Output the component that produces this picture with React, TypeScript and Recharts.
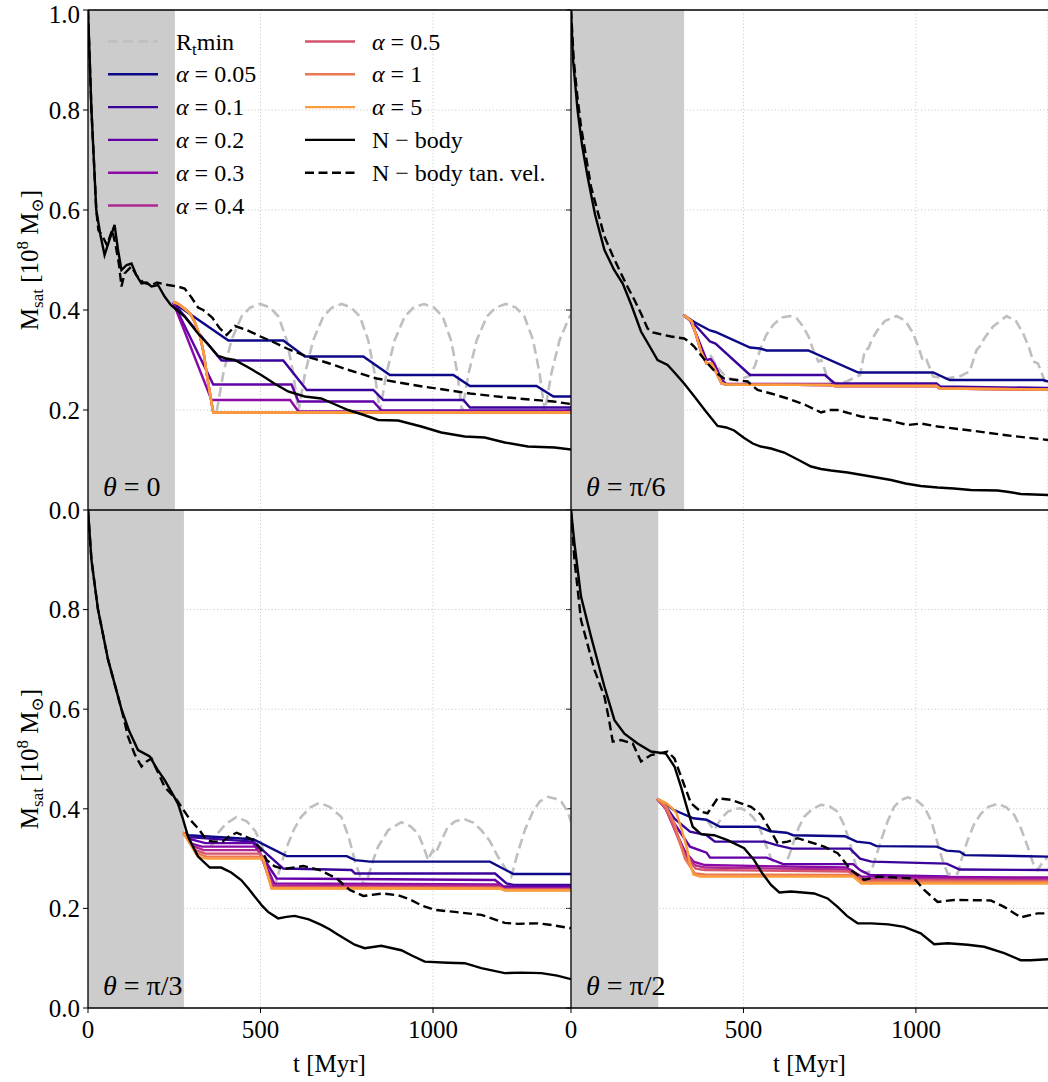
import { CartesianGrid, Line, LineChart, ReferenceArea, XAxis, YAxis } from "recharts";

type Pair = [number, number];

const font = "'Liberation Serif', 'DejaVu Serif', serif";

const ALPHA_LABELS = ["0.05", "0.1", "0.2", "0.3", "0.4", "0.5", "1", "5"];
const ALPHA_COLORS = ["#0d0887", "#3a049a", "#6300a7", "#8b0aa5", "#ae2892", "#d5536f", "#ec7853", "#fa9e3b"];
const X_TICKS = [0, 500, 1000];
const Y_TICKS_TOP = [0, 0.2, 0.4, 0.6, 0.8, 1.0];
const Y_TICKS_BOTTOM = [0, 0.2, 0.4, 0.6, 0.8];
const THETA_LABELS = ["0", "π/6", "π/3", "π/2"];

// ---- theta = 0 (top left)
const tl_rt: Pair[] = [
  [373, 0.197], [392, 0.273], [416, 0.34], [445, 0.387], [470, 0.405], [499, 0.412], [528, 0.405], [552, 0.387], [576, 0.34], [595, 0.273],
  [610, 0.197], [629, 0.273], [653, 0.34], [682, 0.387], [707, 0.405], [735, 0.412], [763, 0.405], [788, 0.387], [812, 0.34], [831, 0.273],
  [846, 0.197], [865, 0.273], [889, 0.34], [918, 0.387], [944, 0.405], [974, 0.412], [1003, 0.405], [1028, 0.387], [1052, 0.34], [1071, 0.273],
  [1084, 0.197], [1103, 0.273], [1127, 0.34], [1156, 0.387], [1182, 0.405], [1211, 0.412], [1240, 0.405], [1265, 0.387], [1290, 0.34], [1309, 0.273],
  [1324, 0.197], [1343, 0.273], [1367, 0.34], [1396, 0.387], [1400, 0.39],
];
const tl_a005: Pair[] = [[247, 0.415], [407, 0.339], [566, 0.339], [629, 0.307], [798, 0.307], [875, 0.27], [1059, 0.27], [1107, 0.248], [1300, 0.248], [1349, 0.227], [1400, 0.227]];
const tl_a01: Pair[] = [[247, 0.415], [387, 0.299], [566, 0.299], [634, 0.24], [827, 0.24], [856, 0.22], [1088, 0.22], [1107, 0.205], [1400, 0.205]];
const tl_a02: Pair[] = [[247, 0.415], [363, 0.251], [590, 0.251], [610, 0.217], [827, 0.217], [851, 0.199], [1400, 0.199]];
const tl_a03: Pair[] = [[247, 0.415], [358, 0.22], [586, 0.22], [610, 0.197], [1400, 0.197]];
const tl_big: Pair[] = [[247, 0.415], [256, 0.414], [266, 0.41], [281, 0.402], [296, 0.393], [310, 0.375], [325, 0.347], [335, 0.315], [344, 0.273], [353, 0.235], [363, 0.195], [1400, 0.195]];
const tl_nbody: Pair[] = [
  [0, 1.0], [5, 0.9], [10, 0.8], [17, 0.7], [24, 0.6], [36, 0.55], [48, 0.51], [62, 0.54], [77, 0.57], [87, 0.52], [97, 0.48], [112, 0.49],
  [126, 0.493], [140, 0.47], [155, 0.453], [170, 0.455], [184, 0.447], [203, 0.45], [222, 0.427], [240, 0.41], [249, 0.405], [280, 0.387],
  [319, 0.353], [350, 0.33], [377, 0.308], [400, 0.303], [425, 0.3], [460, 0.287], [502, 0.27], [540, 0.253], [580, 0.237], [628, 0.227],
  [676, 0.223], [720, 0.21], [754, 0.2], [800, 0.19], [841, 0.18], [899, 0.179], [966, 0.167], [1024, 0.155], [1092, 0.147], [1150, 0.145],
  [1208, 0.135], [1275, 0.127], [1353, 0.125], [1400, 0.121],
];
const tl_tan: Pair[] = [
  [0, 1.0], [5, 0.9], [10, 0.8], [17, 0.7], [24, 0.6], [30, 0.56], [40, 0.55], [55, 0.53], [70, 0.56], [80, 0.53], [90, 0.49], [97, 0.447],
  [106, 0.473], [126, 0.487], [140, 0.47], [160, 0.455], [184, 0.45], [200, 0.455], [232, 0.45], [260, 0.447], [280, 0.443], [300, 0.425],
  [319, 0.405], [334, 0.4], [360, 0.385], [380, 0.365], [402, 0.35], [426, 0.368], [460, 0.36], [500, 0.347], [540, 0.335], [580, 0.322],
  [634, 0.307], [700, 0.293], [760, 0.279], [837, 0.263], [900, 0.255], [970, 0.247], [1040, 0.24], [1107, 0.233], [1200, 0.226],
  [1280, 0.221], [1349, 0.217], [1400, 0.212],
];

// ---- theta = pi/6 (top right)
const tr_rt: Pair[] = [
  [404, 0.31], [420, 0.29], [450, 0.265], [480, 0.26], [519, 0.268], [534, 0.29], [548, 0.32], [566, 0.35], [586, 0.37], [610, 0.385],
  [635, 0.388], [655, 0.383], [673, 0.367], [690, 0.345], [702, 0.32], [717, 0.297], [726, 0.3], [736, 0.28], [746, 0.26], [765, 0.253],
  [799, 0.257], [838, 0.27], [852, 0.32], [862, 0.323], [872, 0.34], [886, 0.357], [910, 0.378], [944, 0.388], [970, 0.378], [992, 0.353],
  [1008, 0.325], [1021, 0.297], [1031, 0.3], [1050, 0.267], [1089, 0.263], [1130, 0.268], [1156, 0.277], [1176, 0.32], [1185, 0.327],
  [1200, 0.345], [1224, 0.367], [1263, 0.388], [1290, 0.378], [1311, 0.353], [1328, 0.325], [1340, 0.297], [1354, 0.293], [1374, 0.257], [1383, 0.253],
];
const tr_a005: Pair[] = [[326, 0.39], [360, 0.375], [403, 0.359], [419, 0.356], [519, 0.325], [548, 0.323], [567, 0.319], [688, 0.319], [833, 0.275], [1050, 0.275], [1098, 0.26], [1369, 0.26], [1383, 0.257]];
const tr_a01: Pair[] = [[326, 0.39], [360, 0.37], [403, 0.337], [419, 0.333], [519, 0.27], [736, 0.27], [765, 0.253], [1060, 0.253], [1070, 0.247], [1383, 0.244]];
const tr_a02: Pair[] = [[326, 0.39], [345, 0.38], [364, 0.35], [393, 0.3], [405, 0.302], [418, 0.29], [437, 0.26], [450, 0.252], [751, 0.252], [765, 0.25], [1060, 0.249], [1070, 0.244], [1383, 0.242]];
const tr_big: Pair[] = [[326, 0.39], [340, 0.383], [350, 0.377], [364, 0.347], [378, 0.315], [393, 0.293], [407, 0.293], [418, 0.28], [427, 0.267], [437, 0.253], [451, 0.251], [751, 0.25], [765, 0.248], [1060, 0.248], [1069, 0.243], [1383, 0.241]];
const tr_nbody: Pair[] = [
  [0, 1.0], [6, 0.9], [19, 0.8], [32, 0.73], [48, 0.667], [70, 0.59], [97, 0.52], [125, 0.48], [150, 0.453], [175, 0.41], [203, 0.357],
  [230, 0.325], [251, 0.3], [280, 0.29], [300, 0.275], [328, 0.253], [360, 0.225], [390, 0.198], [425, 0.168], [450, 0.165], [473, 0.159],
  [500, 0.145], [527, 0.133], [550, 0.127], [580, 0.123], [618, 0.115], [660, 0.1], [696, 0.087], [725, 0.082], [754, 0.079], [802, 0.075],
  [870, 0.067], [928, 0.06], [970, 0.053], [1014, 0.048], [1063, 0.045], [1110, 0.043], [1159, 0.04], [1237, 0.039], [1270, 0.036], [1304, 0.032], [1383, 0.03],
];
const tr_tan: Pair[] = [
  [0, 1.0], [8, 0.9], [18, 0.83], [29, 0.767], [58, 0.647], [80, 0.59], [97, 0.547], [120, 0.51], [145, 0.473], [165, 0.445], [184, 0.42],
  [205, 0.39], [222, 0.363], [237, 0.355], [251, 0.353], [290, 0.347], [328, 0.343], [340, 0.338], [357, 0.327], [396, 0.293], [420, 0.275],
  [444, 0.263], [480, 0.26], [512, 0.257], [541, 0.24], [580, 0.233], [628, 0.223], [680, 0.21], [725, 0.195], [750, 0.2], [773, 0.2],
  [841, 0.187], [918, 0.18], [976, 0.17], [1014, 0.173], [1063, 0.167], [1159, 0.159], [1256, 0.15], [1320, 0.145], [1383, 0.14],
];

// ---- theta = pi/3 (bottom left)
const bl_rt: Pair[] = [
  [357, 0.324], [375, 0.35], [400, 0.37], [430, 0.383], [460, 0.375], [485, 0.355], [502, 0.33], [515, 0.3], [530, 0.265], [541, 0.244],
  [552, 0.27], [565, 0.3], [580, 0.33], [598, 0.36], [618, 0.384], [645, 0.403], [671, 0.412], [700, 0.404], [734, 0.384], [755, 0.345],
  [773, 0.297], [788, 0.265], [802, 0.244], [815, 0.27], [828, 0.3], [841, 0.324], [870, 0.357], [908, 0.373], [935, 0.365], [957, 0.35],
  [972, 0.325], [986, 0.297], [994, 0.31], [1000, 0.317], [1007, 0.31], [1020, 0.33], [1043, 0.364], [1065, 0.375], [1092, 0.379],
  [1118, 0.372], [1140, 0.357], [1165, 0.335], [1188, 0.304], [1210, 0.28], [1227, 0.264], [1245, 0.31], [1266, 0.357], [1290, 0.395],
  [1310, 0.415], [1333, 0.424], [1355, 0.42], [1372, 0.414], [1390, 0.395], [1400, 0.374],
];
const bl_a005: Pair[] = [[276, 0.352], [291, 0.347], [479, 0.339], [576, 0.305], [750, 0.305], [774, 0.297], [817, 0.294], [1165, 0.294], [1233, 0.269], [1400, 0.269]];
const bl_a01: Pair[] = [[276, 0.352], [291, 0.343], [479, 0.334], [566, 0.28], [764, 0.277], [774, 0.27], [1180, 0.27], [1213, 0.25], [1233, 0.247], [1400, 0.247]];
const bl_a02: Pair[] = [[276, 0.352], [291, 0.34], [340, 0.331], [479, 0.331], [547, 0.26], [1180, 0.257], [1204, 0.244], [1400, 0.244]];
const bl_a03: Pair[] = [[276, 0.352], [300, 0.33], [330, 0.324], [490, 0.324], [540, 0.25], [1190, 0.248], [1208, 0.24], [1400, 0.24]];
const bl_a04: Pair[] = [[276, 0.352], [305, 0.325], [335, 0.317], [495, 0.317], [535, 0.246], [1192, 0.245], [1208, 0.239], [1400, 0.239]];
const bl_a05: Pair[] = [[276, 0.352], [308, 0.318], [340, 0.31], [500, 0.31], [533, 0.243], [1194, 0.242], [1208, 0.238], [1400, 0.238]];
const bl_a1: Pair[] = [[276, 0.352], [312, 0.312], [342, 0.304], [505, 0.304], [532, 0.241], [1194, 0.24], [1208, 0.237], [1400, 0.237]];
const bl_a5: Pair[] = [[276, 0.352], [296, 0.33], [315, 0.307], [330, 0.302], [344, 0.3], [508, 0.3], [532, 0.24], [1194, 0.24], [1208, 0.236], [1400, 0.236]];
const bl_nbody: Pair[] = [
  [0, 1.0], [10, 0.9], [29, 0.8], [58, 0.7], [97, 0.6], [120, 0.555], [145, 0.518], [179, 0.505], [200, 0.48], [222, 0.458], [245, 0.43],
  [261, 0.41], [275, 0.38], [290, 0.344], [319, 0.304], [353, 0.282], [386, 0.282], [415, 0.272], [444, 0.257], [465, 0.24], [483, 0.224],
  [505, 0.205], [522, 0.193], [551, 0.18], [575, 0.183], [599, 0.185], [640, 0.178], [676, 0.167], [700, 0.158], [725, 0.147], [773, 0.127],
  [802, 0.12], [850, 0.125], [908, 0.116], [940, 0.105], [976, 0.093], [1043, 0.091], [1092, 0.09], [1140, 0.08], [1208, 0.07], [1256, 0.071],
  [1314, 0.07], [1360, 0.065], [1400, 0.058],
];
const bl_tan: Pair[] = [
  [0, 1.0], [10, 0.9], [29, 0.8], [58, 0.7], [97, 0.6], [116, 0.545], [135, 0.51], [155, 0.485], [170, 0.495], [184, 0.501], [205, 0.47],
  [222, 0.444], [257, 0.418], [296, 0.378], [320, 0.36], [344, 0.337], [363, 0.334], [390, 0.334], [410, 0.345], [431, 0.352], [455, 0.345],
  [479, 0.337], [500, 0.32], [518, 0.297], [540, 0.285], [566, 0.279], [624, 0.285], [672, 0.277], [721, 0.26], [740, 0.248], [759, 0.237],
  [798, 0.225], [856, 0.23], [900, 0.226], [933, 0.218], [970, 0.205], [1005, 0.197], [1063, 0.193], [1140, 0.187], [1208, 0.171],
  [1246, 0.169], [1304, 0.17], [1350, 0.166], [1400, 0.16],
];

// ---- theta = pi/2 (bottom right)
const br_rt: Pair[] = [
  [393, 0.378], [415, 0.357], [435, 0.38], [454, 0.394], [475, 0.4], [493, 0.401], [510, 0.395], [527, 0.384], [545, 0.365], [560, 0.337],
  [580, 0.3], [600, 0.285], [618, 0.284], [632, 0.305], [647, 0.337], [660, 0.362], [676, 0.384], [700, 0.4], [725, 0.408], [750, 0.405],
  [773, 0.394], [790, 0.37], [807, 0.337], [820, 0.3], [831, 0.277], [850, 0.272], [870, 0.274], [885, 0.305], [899, 0.337], [918, 0.375],
  [937, 0.404], [955, 0.417], [976, 0.423], [1000, 0.418], [1024, 0.404], [1045, 0.375], [1063, 0.331], [1078, 0.295], [1092, 0.27],
  [1110, 0.268], [1121, 0.27], [1135, 0.305], [1150, 0.337], [1168, 0.368], [1188, 0.39], [1210, 0.404], [1237, 0.41], [1262, 0.403],
  [1285, 0.388], [1305, 0.36], [1324, 0.324], [1343, 0.284], [1353, 0.277], [1365, 0.29], [1383, 0.304],
];
const br_a005: Pair[] = [[250, 0.42], [275, 0.41], [297, 0.398], [355, 0.381], [393, 0.378], [432, 0.364], [543, 0.364], [577, 0.355], [625, 0.352], [644, 0.347], [794, 0.345], [828, 0.334], [867, 0.331], [886, 0.325], [1060, 0.324], [1089, 0.316], [1127, 0.314], [1142, 0.307], [1383, 0.304]];
const br_a01: Pair[] = [[250, 0.42], [275, 0.405], [300, 0.38], [345, 0.354], [393, 0.347], [417, 0.334], [562, 0.334], [596, 0.327], [640, 0.32], [809, 0.32], [838, 0.3], [871, 0.294], [1089, 0.29], [1127, 0.278], [1383, 0.277]];
const br_a02: Pair[] = [[250, 0.42], [275, 0.4], [300, 0.37], [345, 0.324], [393, 0.312], [403, 0.302], [567, 0.302], [615, 0.289], [818, 0.289], [838, 0.277], [867, 0.267], [1089, 0.264], [1118, 0.26], [1383, 0.26]];
const br_a03: Pair[] = [[250, 0.42], [275, 0.4], [300, 0.36], [330, 0.315], [355, 0.294], [388, 0.287], [799, 0.282], [842, 0.264], [1383, 0.262]];
const br_a04: Pair[] = [[250, 0.42], [275, 0.4], [300, 0.36], [330, 0.31], [359, 0.287], [388, 0.282], [799, 0.278], [842, 0.26], [1383, 0.258]];
const br_a05: Pair[] = [[250, 0.42], [275, 0.4], [300, 0.36], [330, 0.305], [362, 0.28], [388, 0.277], [804, 0.274], [847, 0.257], [1383, 0.255]];
const br_a1: Pair[] = [[250, 0.42], [275, 0.405], [300, 0.37], [330, 0.3], [359, 0.27], [388, 0.268], [818, 0.267], [847, 0.254], [1383, 0.253]];
const br_a5: Pair[] = [[250, 0.42], [277, 0.411], [292, 0.402], [306, 0.391], [320, 0.36], [335, 0.324], [345, 0.29], [355, 0.268], [374, 0.264], [818, 0.264], [842, 0.25], [1383, 0.25]];
const br_nbody: Pair[] = [
  [0, 1.0], [10, 0.933], [29, 0.826], [58, 0.746], [97, 0.645], [126, 0.578], [155, 0.551], [193, 0.531], [232, 0.515], [275, 0.511],
  [300, 0.485], [319, 0.444], [338, 0.398], [353, 0.364], [377, 0.349], [415, 0.347], [454, 0.337], [502, 0.321], [531, 0.297], [555, 0.27],
  [580, 0.247], [604, 0.232], [638, 0.234], [705, 0.23], [744, 0.22], [773, 0.203], [800, 0.185], [831, 0.17], [870, 0.17], [920, 0.168],
  [966, 0.163], [1014, 0.15], [1053, 0.128], [1092, 0.13], [1150, 0.127], [1198, 0.123], [1256, 0.11], [1304, 0.096], [1333, 0.096], [1383, 0.098],
];
const br_tan: Pair[] = [
  [0, 1.0], [10, 0.9], [29, 0.779], [68, 0.679], [97, 0.625], [110, 0.58], [121, 0.535], [145, 0.538], [179, 0.531], [203, 0.495],
  [232, 0.508], [280, 0.515], [300, 0.501], [319, 0.465], [348, 0.411], [377, 0.394], [396, 0.391], [425, 0.421], [464, 0.418], [522, 0.404],
  [551, 0.388], [575, 0.36], [599, 0.331], [628, 0.334], [657, 0.341], [734, 0.324], [773, 0.311], [812, 0.277], [850, 0.257], [889, 0.264],
  [995, 0.26], [1024, 0.237], [1063, 0.213], [1111, 0.217], [1217, 0.216], [1256, 0.203], [1304, 0.182], [1353, 0.19], [1383, 0.19],
];

// shaded (pre-pericentre) windows, Myr
const SHADE = [252, 328, 278, 253];

type Series = { key: string; data: Pair[]; color: string; dash?: string; width?: number };

const mkSeries = (rt: Pair[], alphas: Pair[][], nb: Pair[], tan: Pair[]): Series[] => [
  { key: "rt", data: rt, color: "#bfbfbf", dash: "10 5", width: 2.6 },
  ...alphas.map((d, i) => ({ key: "a" + i, data: d, color: ALPHA_COLORS[i] })),
  { key: "nb", data: nb, color: "#000" },
  { key: "tan", data: tan, color: "#000", dash: "9 4.5" },
];

const PANELS = [
  mkSeries(tl_rt, [tl_a005, tl_a01, tl_a02, tl_a03, tl_big, tl_big, tl_big, tl_big], tl_nbody, tl_tan),
  mkSeries(tr_rt, [tr_a005, tr_a01, tr_a02, tr_big, tr_big, tr_big, tr_big, tr_big], tr_nbody, tr_tan),
  mkSeries(bl_rt, [bl_a005, bl_a01, bl_a02, bl_a03, bl_a04, bl_a05, bl_a1, bl_a5], bl_nbody, bl_tan),
  mkSeries(br_rt, [br_a005, br_a01, br_a02, br_a03, br_a04, br_a05, br_a1, br_a5], br_nbody, br_tan),
];

const toPts = (p: Pair[]) => p.map(([t, m]) => ({ t, m }));

function Panel({
  left, top, yw, plotW, plotH, mt, mb, xh, xMax, shade, series, yTicks, yLabels, xLabels,
}: {
  left: number; top: number; yw: number; plotW: number; plotH: number; mt: number; mb: number; xh: number;
  xMax: number; shade: number; series: Series[]; yTicks: number[]; yLabels: boolean; xLabels: boolean;
}) {
  const tickStyle = { fontSize: 25, fill: "#000", fontFamily: font };
  return (
    <div style={{ position: "absolute", left, top }}>
      <LineChart width={yw + plotW} height={mt + plotH + xh + mb} margin={{ top: mt, right: 0, bottom: mb, left: 0 }}>
        <CartesianGrid stroke="#c4c4c4" strokeDasharray="1 2.4" />
        <XAxis
          type="number"
          dataKey="t"
          domain={[0, xMax]}
          ticks={X_TICKS}
          allowDataOverflow
          hide={!xLabels}
          height={xh}
          axisLine={false}
          tickLine={{ stroke: "#000" }}
          tickSize={5}
          tickMargin={7}
          tick={tickStyle}
        />
        <YAxis
          type="number"
          domain={[0, 1]}
          ticks={yTicks}
          allowDataOverflow
          width={yw}
          axisLine={false}
          tickLine={{ stroke: "#000" }}
          tickSize={5}
          tickMargin={3}
          tick={tickStyle}
          tickFormatter={(v: number) => (yLabels ? v.toFixed(1) : "")}
        />
        <ReferenceArea x1={0} x2={shade} y1={0} y2={1} fill="#cccccc" fillOpacity={1} stroke="none" ifOverflow="hidden" />
        {series.map((s) => (
          <Line
            key={s.key}
            data={toPts(s.data)}
            dataKey="m"
            type="linear"
            stroke={s.color}
            strokeWidth={s.width ?? 2.4}
            strokeDasharray={s.dash}
            dot={false}
            activeDot={false}
            isAnimationActive={false}
          />
        ))}
      </LineChart>
    </div>
  );
}

function Legend() {
  const rows = [0, 1, 2, 3, 4, 5].map((i) => 41.5 + i * 32.8);
  const items = [
    { label: "rt", color: "#bfbfbf", dash: "10 5" },
    ...ALPHA_LABELS.map((a, i) => ({ label: a, color: ALPHA_COLORS[i], dash: undefined as string | undefined })),
    { label: "nb", color: "#000", dash: undefined },
    { label: "tan", color: "#000", dash: "9 4.5" },
  ];
  return (
    <g fontFamily={font} fontSize={24}>
      {items.map((it, i) => {
        const col = i < 6 ? 0 : 1;
        const y = rows[col === 0 ? i : i - 6];
        const x0 = col === 0 ? 108 : 305;
        const tx = col === 0 ? 176 : 372;
        let text;
        if (it.label === "rt") {
          text = (
            <>
              R<tspan fontSize={17} dy={5}>t</tspan>
              <tspan dy={-5}>min</tspan>
            </>
          );
        } else if (it.label === "nb") {
          text = "N − body";
        } else if (it.label === "tan") {
          text = "N − body tan. vel.";
        } else {
          text = (
            <>
              <tspan fontStyle="italic">α</tspan> = {it.label}
            </>
          );
        }
        return (
          <g key={i}>
            <line x1={x0} x2={x0 + 50} y1={y} y2={y} stroke={it.color} strokeWidth={it.label === "rt" ? 2.6 : 2.4} strokeDasharray={it.dash} />
            <text x={tx} y={y + 8}>{text}</text>
          </g>
        );
      })}
    </g>
  );
}

function YTitle({ cy }: { cy: number }) {
  return (
    <text transform={`translate(38,${cy}) rotate(-90)`} textAnchor="middle" fontFamily={font} fontSize={25}>
      M<tspan fontSize={17} dy={5}>sat</tspan>
      <tspan dy={-5}> [10</tspan>
      <tspan fontSize={17} dy={-10}>8</tspan>
      <tspan dy={10}> M</tspan>
      <tspan fontSize={17} dy={5}>⊙</tspan>
      <tspan dy={-5}>]</tspan>
    </text>
  );
}

export default function App() {
  const L = 88;
  const M = 571;
  const R = 1048;
  const T = 10;
  const MID = 510;
  const B = 1008;
  return (
    <div style={{ position: "absolute", left: 0, top: 0, width: 1048, height: 1082, background: "#fff" }}>
      <Panel left={561} top={510} yw={10} plotW={477} plotH={498} mt={0} mb={0} xh={40} xMax={1383} shade={SHADE[3]} series={PANELS[3]} yTicks={Y_TICKS_BOTTOM} yLabels={false} xLabels />
      <Panel left={0} top={510} yw={88} plotW={483} plotH={498} mt={0} mb={0} xh={40} xMax={1400} shade={SHADE[2]} series={PANELS[2]} yTicks={Y_TICKS_BOTTOM} yLabels xLabels />
      <Panel left={561} top={0} yw={10} plotW={477} plotH={500} mt={10} mb={0} xh={0} xMax={1383} shade={SHADE[1]} series={PANELS[1]} yTicks={Y_TICKS_TOP} yLabels={false} xLabels={false} />
      <Panel left={0} top={0} yw={88} plotW={483} plotH={500} mt={10} mb={14} xh={0} xMax={1400} shade={SHADE[0]} series={PANELS[0]} yTicks={Y_TICKS_TOP} yLabels xLabels={false} />
      <svg width={1048} height={1082} style={{ position: "absolute", left: 0, top: 0, pointerEvents: "none" }}>
        <g stroke="#000" strokeWidth={1.3}>
          <line x1={L} x2={R} y1={T} y2={T} />
          <line x1={L} x2={R} y1={MID} y2={MID} />
          <line x1={L} x2={R} y1={B} y2={B} />
          <line x1={L} x2={L} y1={T} y2={B} />
          <line x1={M} x2={M} y1={T} y2={B} />
        </g>
        <Legend />
        <YTitle cy={260} />
        <YTitle cy={759} />
        <g fontFamily={font} fontSize={25} textAnchor="middle">
          <text x={329.5} y={1072}>t [Myr]</text>
          <text x={809.5} y={1072}>t [Myr]</text>
        </g>
        <g fontFamily={font} fontSize={28}>
          {THETA_LABELS.map((lab, i) => (
            <text key={lab} x={(i % 2 === 0 ? L : M) + 15} y={i < 2 ? 496 : 995}>
              <tspan fontStyle="italic">θ</tspan> = {lab}
            </text>
          ))}
        </g>
      </svg>
    </div>
  );
}
